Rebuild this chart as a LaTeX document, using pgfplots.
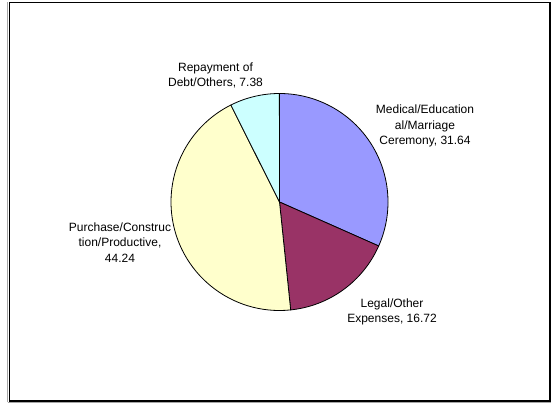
\documentclass[border=0pt]{standalone}
\usepackage{pgfplots}
\pgfplotsset{compat=1.18}
\usepackage{fontspec}
\setmainfont{Liberation Sans}
\definecolor{medc}{HTML}{9999FF}
\definecolor{legc}{HTML}{993366}
\definecolor{purc}{HTML}{FFFFCC}
\definecolor{repc}{HTML}{CCFFFF}
% slice values (percent)
\def\vA{31.64}% Medical/Educational/Marriage Ceremony
\def\vB{16.72}% Legal/Other Expenses
\def\vC{44.24}% Purchase/Construction/Productive
\def\vD{7.38}% Repayment of Debt/Others
\pgfmathsetmacro\aA{90}
\pgfmathsetmacro\aB{\aA-3.6*\vA}
\pgfmathsetmacro\aC{\aB-3.6*\vB}
\pgfmathsetmacro\aD{\aC-3.6*\vC}
\pgfmathsetmacro\aE{\aD-3.6*\vD}
\def\R{81.375pt}
\begin{document}
\begin{tikzpicture}
\begin{axis}[
  width=416.25pt, height=302.25pt, scale only axis,
  xmin=0, xmax=555, ymin=0, ymax=403,
  hide axis, clip=false,
]
\coordinate (BL) at (axis cs:0,0);
\coordinate (TR) at (axis cs:555,403);
% frame
\draw[gray!70, line width=0.75pt] (axis cs:7.5,1) -- (axis cs:7.5,400.5);
\draw[gray!70, line width=0.75pt] (axis cs:7.5,1) -- (axis cs:551,1);
\draw[black, line width=0.9pt] (axis cs:9.5,2) rectangle (axis cs:550,400.5);
% pie
\filldraw[fill=medc, draw=black, line width=0.6pt, line join=round] (axis cs:279.5,201) -- ++(\aA:\R) arc[start angle=\aA, end angle=\aB, radius=\R] -- cycle;
\filldraw[fill=legc, draw=black, line width=0.6pt, line join=round] (axis cs:279.5,201) -- ++(\aB:\R) arc[start angle=\aB, end angle=\aC, radius=\R] -- cycle;
\filldraw[fill=purc, draw=black, line width=0.6pt, line join=round] (axis cs:279.5,201) -- ++(\aC:\R) arc[start angle=\aC, end angle=\aD, radius=\R] -- cycle;
\filldraw[fill=repc, draw=black, line width=0.6pt, line join=round] (axis cs:279.5,201) -- ++(\aD:\R) arc[start angle=\aD, end angle=\aE, radius=\R] -- cycle;
% labels
\tikzset{lab/.style={align=center, inner sep=0pt, font=\fontsize{9}{11.6}\selectfont}}
\node[lab] at (axis cs:215.5,327.5) {Repayment of\\Debt/Others, 7.38};
\node[lab] at (axis cs:425,277) {Medical/Education\\al/Marriage\\Ceremony, 31.64};
\node[lab] at (axis cs:392,91) {Legal/Other\\Expenses, 16.72};
\node[lab] at (axis cs:120,160.7) {Purchase/Construc\\tion/Productive,\\44.24};
\end{axis}
\pgfresetboundingbox
\path[use as bounding box] (BL) rectangle (TR);
\end{tikzpicture}
\end{document}
